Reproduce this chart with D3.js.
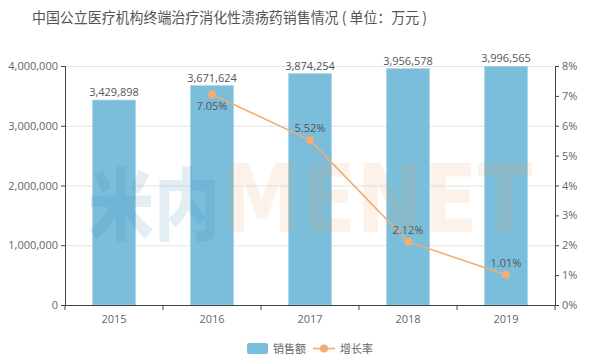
<!DOCTYPE html>
<html><head><meta charset="utf-8">
<script src="https://cdn.jsdelivr.net/npm/d3@7"></script>
<style>body{margin:0;background:#fff;}svg{display:block;font-family:"Noto Sans CJK SC","Open Sans",sans-serif;}</style>
</head><body><svg id="c" width="606" height="359"></svg>
<script>
const years = ["2015","2016","2017","2018","2019"];
const sales = [3429898, 3671624, 3874254, 3956578, 3996565];
const growth = [null, 7.05, 5.52, 2.12, 1.01];
const leftTicks = [0, 1000000, 2000000, 3000000, 4000000];
const rightTicks = [0,1,2,3,4,5,6,7,8];
const title = "中国公立医疗机构终端治疗消化性溃疡药销售情况 ( 单位：万元 )";

const svg = d3.select("#c");
const L = 65, R = 555, T = 66, B = 305;
const x = d3.scaleBand().domain(years).range([L, R]).paddingInner(0.56).paddingOuter(0.28);
const xb = d3.scaleBand().domain(years).range([L, R]);
const y = d3.scaleLinear().domain([0, 4000000]).range([B, T]);
const y2 = d3.scaleLinear().domain([0, 8]).range([B, T]);

svg.append("text").attr("x", 32).attr("y", 23).attr("font-size", 15).attr("fill", "#555")
  .attr("textLength", 395).attr("lengthAdjust", "spacingAndGlyphs").text(title);

// grid
svg.append("g").selectAll("line").data(leftTicks.slice(1)).join("line")
  .attr("x1", L).attr("x2", R).attr("y1", d => y(d) + 0.5).attr("y2", d => y(d) + 0.5)
  .attr("stroke", "#e3e3e3");

// bars
svg.append("g").selectAll("rect").data(years).join("rect")
  .attr("x", d => x(d)).attr("width", x.bandwidth())
  .attr("y", (d, i) => y(sales[i])).attr("height", (d, i) => B - y(sales[i]))
  .attr("fill", "#7bbedb").attr("stroke", "#a9d6ea").attr("stroke-width", 0.6);

svg.append("g").selectAll("text").data(years).join("text")
  .attr("x", d => x(d) + x.bandwidth() / 2).attr("y", (d, i) => y(sales[i]) - 4)
  .attr("text-anchor", "middle").attr("font-size", 11).attr("fill", "#555")
  .attr("font-family", "'Open Sans',sans-serif")
  .text((d, i) => d3.format(",")(sales[i]));

// axes
const gl = svg.append("g").attr("transform", `translate(${L},0)`)
  .call(d3.axisLeft(y).tickValues(leftTicks).tickFormat(d3.format(",")).tickSize(4).tickPadding(3));
const gr = svg.append("g").attr("transform", `translate(${R},0)`)
  .call(d3.axisRight(y2).tickValues(rightTicks).tickFormat(d => d + "%").tickSize(4).tickPadding(3));
const gx = svg.append("g").attr("transform", `translate(0,${B})`)
  .call(d3.axisBottom(xb).tickSize(0).tickPadding(10));
[gl, gr, gx].forEach(g => {
  g.selectAll("path").attr("stroke", "#444");
  g.selectAll("line").attr("stroke", "#444");
  g.selectAll("text").attr("fill", "#666").attr("font-size", 11).attr("font-family", "'Open Sans',sans-serif");
});
gx.select("path").attr("d", `M${L},0.5H${R}`);
gx.append("g").selectAll("line").data(d3.range(years.length + 1)).join("line")
  .attr("x1", i => L + i * xb.step()).attr("x2", i => L + i * xb.step())
  .attr("y1", 0).attr("y2", 5).attr("stroke", "#444");

// line
const pts = years.map((d, i) => ({ d, v: growth[i] })).filter(p => p.v != null);
const cx = p => x(p.d) + x.bandwidth() / 2;
svg.append("path").datum(pts)
  .attr("d", d3.line().x(cx).y(p => y2(p.v)))
  .attr("fill", "none").attr("stroke", "#f0ad74").attr("stroke-width", 1.6);
svg.append("g").selectAll("circle").data(pts).join("circle")
  .attr("cx", cx).attr("cy", p => y2(p.v)).attr("r", 4).attr("fill", "#f0ad74");
svg.append("g").selectAll("text").data(pts).join("text")
  .attr("x", cx).attr("y", (p, i) => i === 0 ? y2(p.v) + 16 : y2(p.v) - 8)
  .attr("text-anchor", "middle").attr("font-size", 11).attr("fill", "#555")
  .attr("font-family", "'Open Sans',sans-serif")
  .text(p => p.v.toFixed(2) + "%");

// watermark
const wm = svg.append("g").attr("opacity", 0.13).attr("font-weight", 900);
wm.append("text").attr("x", 88).attr("y", 235).attr("font-size", 66).attr("fill", "#2a7fb0")
  .attr("transform", "translate(0,-43) scale(1,1.18)")
  .attr("font-family", "'Noto Sans CJK SC',sans-serif").text("米内");
wm.append("text").attr("x", 222).attr("y", 235).attr("font-size", 80).attr("fill", "#f2a25c")
  .attr("transform", "translate(0,-45) scale(1,1.18)")
  .attr("font-family", "'DejaVu Sans',sans-serif").text("MENET");

// legend
const lg = svg.append("g");
lg.append("rect").attr("x", 247).attr("y", 343).attr("width", 21).attr("height", 11).attr("rx", 2).attr("fill", "#7bbedb");
lg.append("text").attr("x", 273).attr("y", 353).attr("font-size", 11).attr("fill", "#666").text("销售额");
lg.append("line").attr("x1", 313).attr("x2", 335).attr("y1", 348.5).attr("y2", 348.5).attr("stroke", "#f0ad74").attr("stroke-width", 1.6);
lg.append("circle").attr("cx", 324).attr("cy", 348.5).attr("r", 4).attr("fill", "#f0ad74");
lg.append("text").attr("x", 340).attr("y", 353).attr("font-size", 11).attr("fill", "#666").text("增长率");
</script></body></html>
